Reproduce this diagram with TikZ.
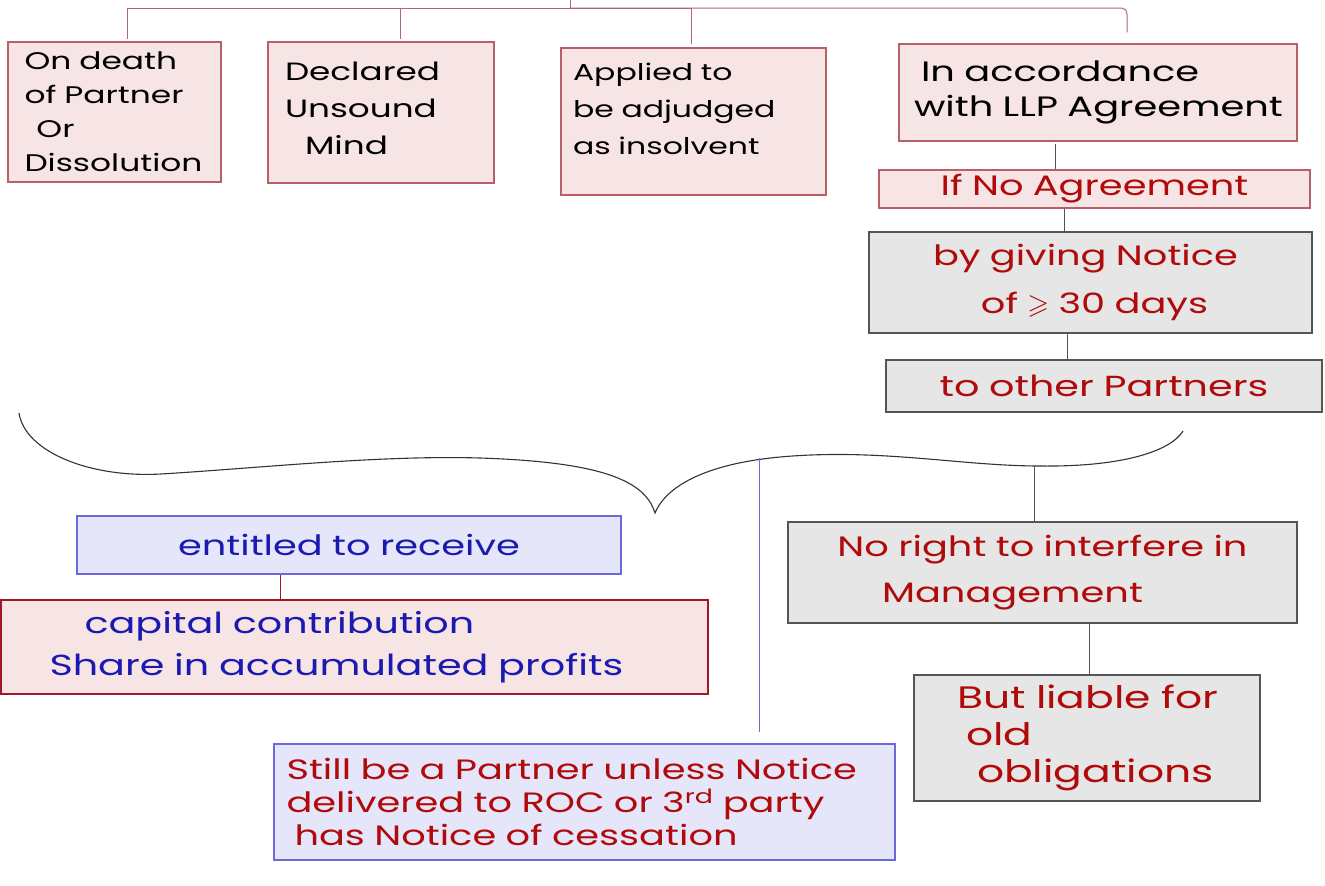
\documentclass[tikz,border=0pt]{standalone}
\usepackage{amssymb}
\usepackage{fontspec}
\setmainfont{Poppins}[FakeStretch=1.37]
\usetikzlibrary{calc}

\definecolor{pinkfill}{HTML}{F7E4E4}
\definecolor{pinkedge}{HTML}{B8606A}
\definecolor{darkedge}{HTML}{A01828}
\definecolor{grayfill}{HTML}{E6E6E6}
\definecolor{grayedge}{HTML}{555555}
\definecolor{lavfill}{HTML}{E6E6FA}
\definecolor{lavedge}{HTML}{6A6AD8}
\definecolor{inkred}{HTML}{B00A0A}
\definecolor{inkblue}{HTML}{1A1AB0}
\definecolor{barline}{HTML}{B06878}

\tikzset{
  hw/.style args={#1/#2}{font=\fontsize{#1}{#2}\selectfont},
  box/.style={line width=1.1pt, inner ysep=0pt, inner xsep=0pt},
  pinkbox/.style={box, draw=pinkedge, fill=pinkfill, text=black},
  redpink/.style={box, draw=pinkedge, fill=pinkfill, text=inkred},
  graybox/.style={box, draw=grayedge, fill=grayfill, text=inkred},
  lavbox/.style={box, draw=lavedge, fill=lavfill},
  capbox/.style={box, draw=darkedge, fill=pinkfill, text=inkblue},
  barl/.style={draw=barline, line width=1pt},
  link/.style={draw=grayedge, line width=1pt},
  bracel/.style={draw=black!80, line width=1.1pt},
}

\begin{document}
\begin{tikzpicture}[x=1pt, y=-1pt]
\useasboundingbox (0,0) rectangle (1325,886);

% first row: the four ways of ceasing
\node[pinkbox, hw=24/34, minimum width=213, minimum height=140, text width=180, align=left] (death) at (114.5,112)
  {On death\\of Partner\\\hspace*{12pt}Or\\Dissolution};
\node[pinkbox, hw=25/37, minimum width=226, minimum height=141, text width=192, align=left] (unsound) at (381,112.5)
  {Declared\\Unsound\\\hspace*{20pt}Mind\\[-29pt]\mbox{}};
\node[pinkbox, hw=23/37, minimum width=265, minimum height=147, text width=241, align=left] (applied) at (693.5,121.5)
  {Applied to\\be adjudged\\as insolvent\\[-11pt]\mbox{}};
\node[pinkbox, hw=28/35, minimum width=398, minimum height=97, text width=384, align=left] (llp) at (1098,92.5)
  {\hspace*{15pt}In accordance\\\hspace*{8pt}with LLP Agreement};

% right column
\node[redpink, hw=28/34, minimum width=431, minimum height=38, text width=431, align=center] (ifno) at (1094.5,189)
  {If No Agreement};
\node[graybox, hw=28/48, minimum width=443, minimum height=101, text width=443, align=center] (giving) at (1090.5,282.5)
  {\hspace*{-10pt}by giving Notice\\\hspace*{8pt}of $\geqslant$ 30 days};
\node[graybox, hw=29/34, minimum width=436, minimum height=52, text width=436, align=center] (others) at (1104,386)
  {to other Partners};

% consequences
\node[lavbox, hw=28/34, text=inkblue, minimum width=544, minimum height=58, text width=544, align=center] (entitled) at (349,545)
  {entitled to receive};
\node[capbox, hw=29/42, minimum width=707, minimum height=94, text width=610, align=left] (capital) at (354.5,647)
  {\hspace*{35pt}capital contribution\\Share in accumulated profits};
\node[graybox, hw=28/46, minimum width=509, minimum height=101, text width=509, align=center] (noright) at (1042.5,572.5)
  {No right to interfere in\\\hspace*{-60pt}Management};
\node[graybox, hw=31/37, minimum width=346, minimum height=126, text width=302, align=left] (liable) at (1087,738)
  {\hspace*{21pt}But liable for\\\hspace*{30pt}old\\\hspace*{41pt}obligations};
\node[lavbox, hw=28/33, text=inkred, minimum width=621, minimum height=116, text width=596, align=left] (still) at (584.5,802)
  {Still be a Partner unless Notice\\delivered to ROC or 3\textsuperscript{rd} party\\\hspace*{8pt}has Notice of cessation};

% top bracket
\coordinate (t0) at (570,0);
\coordinate (bar) at (570,8);
\draw[barl] (t0) -- (bar);
\draw[barl] (bar) -| ($(death.north)+(12.5,-2)$);
\draw[barl] (bar) -| ($(unsound.north)+(19,-2)$);
\draw[barl] (bar) -| ($(applied.north)+(-2.5,-3)$);
\draw[barl] (bar) -- (1122,8) to[out=0,in=90] (1127,14) -- ($(llp.north)+(29,-11)$);

% right column links
\coordinate (x1) at (1055,0);
\coordinate (x2) at (1064,0);
\coordinate (x3) at (1067,0);
\draw[link] ($(llp.south -| x1)+(0,2)$) -- (ifno.north -| x1);
\draw[link] (ifno.south -| x2) -- (giving.north -| x2);
\draw[link] (giving.south -| x3) -- (others.north -| x3);

% brace
\coordinate (bl) at (19,413);
\coordinate (tip) at (655,513);
\coordinate (br) at (1183,431);
\coordinate (bj1) at (759,458);
\coordinate (bj2) at (1034,466);
\draw[bracel] (bl) .. controls (25,452) and (90,478) .. (161,474)
  .. controls (260,468) and (380,455) .. (480,458)
  .. controls (600,462) and (645,480) .. (tip)
  .. controls (668,482) and (715,463) .. (780,457)
  .. controls (880,448) and (960,466) .. (1040,466)
  .. controls (1120,467) and (1170,452) .. (br);

% lower links
\coordinate (x4) at (280,0);
\coordinate (x5) at (1089,0);
\draw[draw=darkedge, line width=1pt] (entitled.south -| x4) -- (capital.north -| x4);
\draw[link] (bj2) -- (noright.north -| bj2);
\draw[link] (noright.south -| x5) -- (liable.north -| x5);
\draw[draw=lavedge, line width=1pt] (bj1) -- ($(still.north -| bj1)+(0,-11)$);
\end{tikzpicture}
\end{document}
